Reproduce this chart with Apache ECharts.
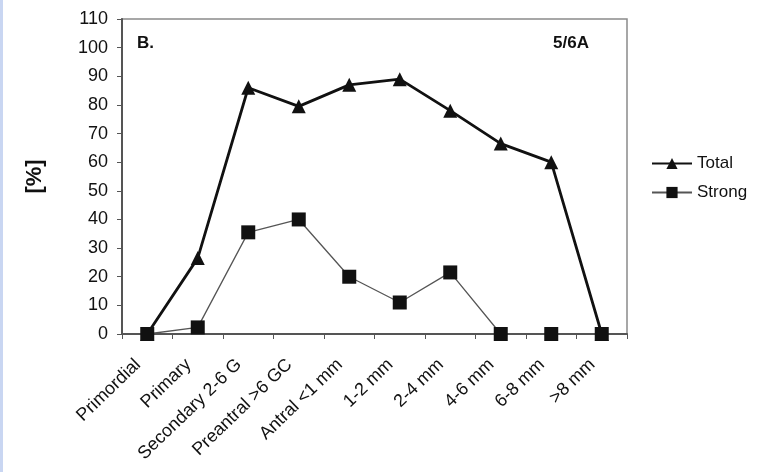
<!DOCTYPE html>
<html><head><meta charset="utf-8">
<script src="https://cdn.jsdelivr.net/npm/echarts@6/dist/echarts.min.js"></script>
<style>html,body{margin:0;padding:0;background:#fff}#c{width:764px;height:472px}</style>
</head><body><div id="c"></div>
<script>
const categories = ["Primordial","Primary","Secondary 2-6 G","Preantral >6 GC","Antral <1 mm","1-2 mm","2-4 mm","4-6 mm","6-8 mm",">8 mm"];
const totalValues = [0, 26.5, 86, 79.5, 87, 89, 78, 66.5, 60, 0];
const strongValues = [0, 2.3, 35.5, 40, 20, 11, 21.5, 0, 0, 0];
const yTicks = [0,10,20,30,40,50,60,70,80,90,100,110];

const chart = echarts.init(document.getElementById('c'));
const font = 'Liberation Sans, Arial, sans-serif';
chart.setOption({
  animation: false,
  backgroundColor: '#fff',
  grid: {left: 122, right: 137, top: 19, bottom: 138, show: true, borderColor: '#8a8a8a', borderWidth: 1.5},
  legend: {
    orient: 'vertical', left: 646, top: 150, itemGap: 12, itemWidth: 40, itemHeight: 14,
    textStyle: {fontFamily: font, fontSize: 17, color: '#111'},
    data: ['Total', 'Strong']
  },
  graphic: [
    {type: 'rect', left: 0, top: 0, shape: {width: 3, height: 472}, style: {fill: '#c9d6f2'}},
    {type: 'text', left: 137, top: 35, style: {text: 'B.', font: 'bold 17px ' + font, fill: '#111'}},
    {type: 'text', left: 553, top: 35, style: {text: '5/6A', font: 'bold 17px ' + font, fill: '#111'}}
  ],
  xAxis: {
    type: 'category', data: categories, boundaryGap: true,
    axisLine: {lineStyle: {color: '#555', width: 2}},
    axisTick: {show: true, length: 5, lineStyle: {color: '#555'}},
    axisLabel: {rotate: 44, fontFamily: font, fontSize: 18, color: '#111', margin: 19, interval: 0,
      padding: [0, 13, 0, 0]}
  },
  yAxis: {
    type: 'value', min: 0, max: 110, interval: 10,
    name: '[%]', nameLocation: 'middle', nameGap: 76, nameRotate: 90,
    nameTextStyle: {fontFamily: font, fontSize: 22, fontWeight: 'bold', color: '#111'},
    axisLine: {show: true, lineStyle: {color: '#555', width: 2}},
    axisTick: {show: true, length: 5, lineStyle: {color: '#555'}},
    axisLabel: {fontFamily: font, fontSize: 18, color: '#111', margin: 14,
      formatter: v => yTicks.includes(v) ? String(v) : ''},
    splitLine: {show: false}
  },
  series: [
    {name: 'Total', type: 'line', data: totalValues, symbol: 'triangle', symbolSize: 14,
     lineStyle: {color: '#111', width: 2.8}, itemStyle: {color: '#111'}, z: 3},
    {name: 'Strong', type: 'line', data: strongValues, symbol: 'rect', symbolSize: 14,
     lineStyle: {color: '#555', width: 1.3}, itemStyle: {color: '#111'}, z: 4}
  ]
});
</script></body></html>
